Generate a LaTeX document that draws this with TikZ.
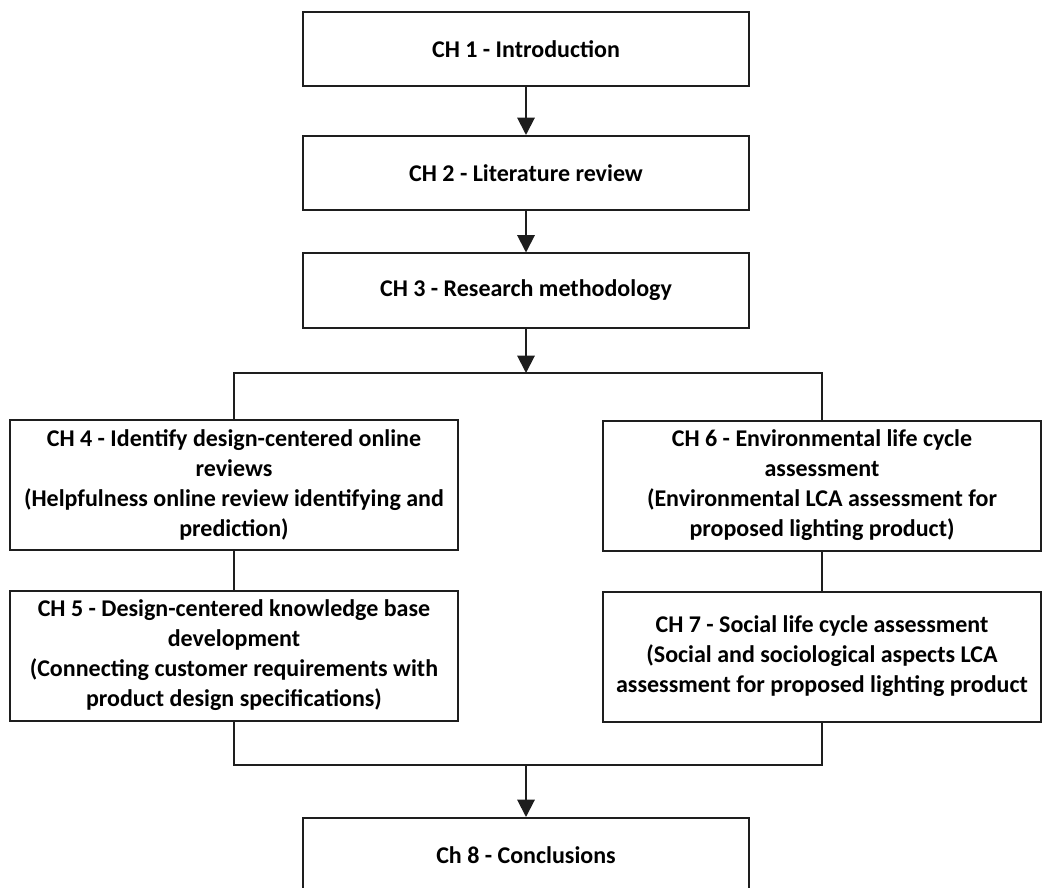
\documentclass[tikz,border=0pt]{standalone}
\usepackage{fontspec}
\setmainfont{Carlito}
\usepackage{tikz}
\usetikzlibrary{arrows.meta, positioning, calc}
\definecolor{boxline}{RGB}{30,30,30}
\tikzset{
  chbox/.style    = {rectangle, draw=boxline, line width=1.5pt, fill=white,
                     minimum width=#1, align=center, minimum height=55.5pt,
                     inner sep=0pt, font=\fontsize{18}{22.5}\selectfont\bfseries},
  chbox/.default  = 334.5pt,
  widebox/.style  = {chbox=#1, minimum height=97.5pt},
  widebox/.default = 336pt,
  arrow/.style    = {-{Triangle[width=13pt, length=13pt]}, line width=1.5pt, color=boxline},
  link/.style     = {line width=1.5pt, color=boxline},
}
\begin{document}
\begin{tikzpicture}[x=0.75pt, y=-0.75pt]
  \useasboundingbox (0,0) rectangle (1043,888);
  % main line
  \node[chbox] (ch1) at (526, 49)    {CH 1 - Introduction};
  \node[chbox] (ch2) at (526, 173)   {CH 2 - Literature review};
  \node[chbox] (ch3) at (526, 290.5) {CH 3 - Research methodology};
  % two branches
  \node[widebox] (ch4) at (234, 485)
    {CH 4 - Identify design-centered online\\reviews\\(Helpfulness online review identifying and\\prediction)};
  \node[widebox] (ch5) at (234, 655.5)
    {CH 5 - Design-centered knowledge base\\development\\(Connecting customer requirements with\\product design specifications)};
  \node[widebox=328.5pt] (ch6) at (822, 485.5)
    {CH 6 - Environmental life cycle\\assessment\\(Environmental LCA assessment for\\proposed lighting product)};
  \node[widebox=328.5pt] (ch7) at (822, 656.5)
    {CH 7 - Social life cycle assessment\\(Social and sociological aspects LCA\\assessment for proposed lighting product};
  \node[chbox] (ch8) at (526, 855)   {Ch 8 - Conclusions};

  \coordinate (split) at (526, 373);
  \coordinate (join)  at (526, 765);

  \draw[arrow] (ch1.south) -- (ch2.north);
  \draw[arrow] (ch2.south) -- (ch3.north);
  \draw[arrow] (ch3.south) -- (split);
  \draw[link] (ch4.north) -- (ch4.north |- split) -- (ch6.north |- split) -- (ch6.north);
  \draw[link] (ch4.south) -- (ch5.north);
  \draw[link] (ch6.south) -- (ch7.north);
  \draw[link] (ch5.south) -- (ch5.south |- join) -- (ch7.south |- join) -- (ch7.south);
  \draw[arrow] (join) -- (ch8.north);
\end{tikzpicture}
\end{document}
